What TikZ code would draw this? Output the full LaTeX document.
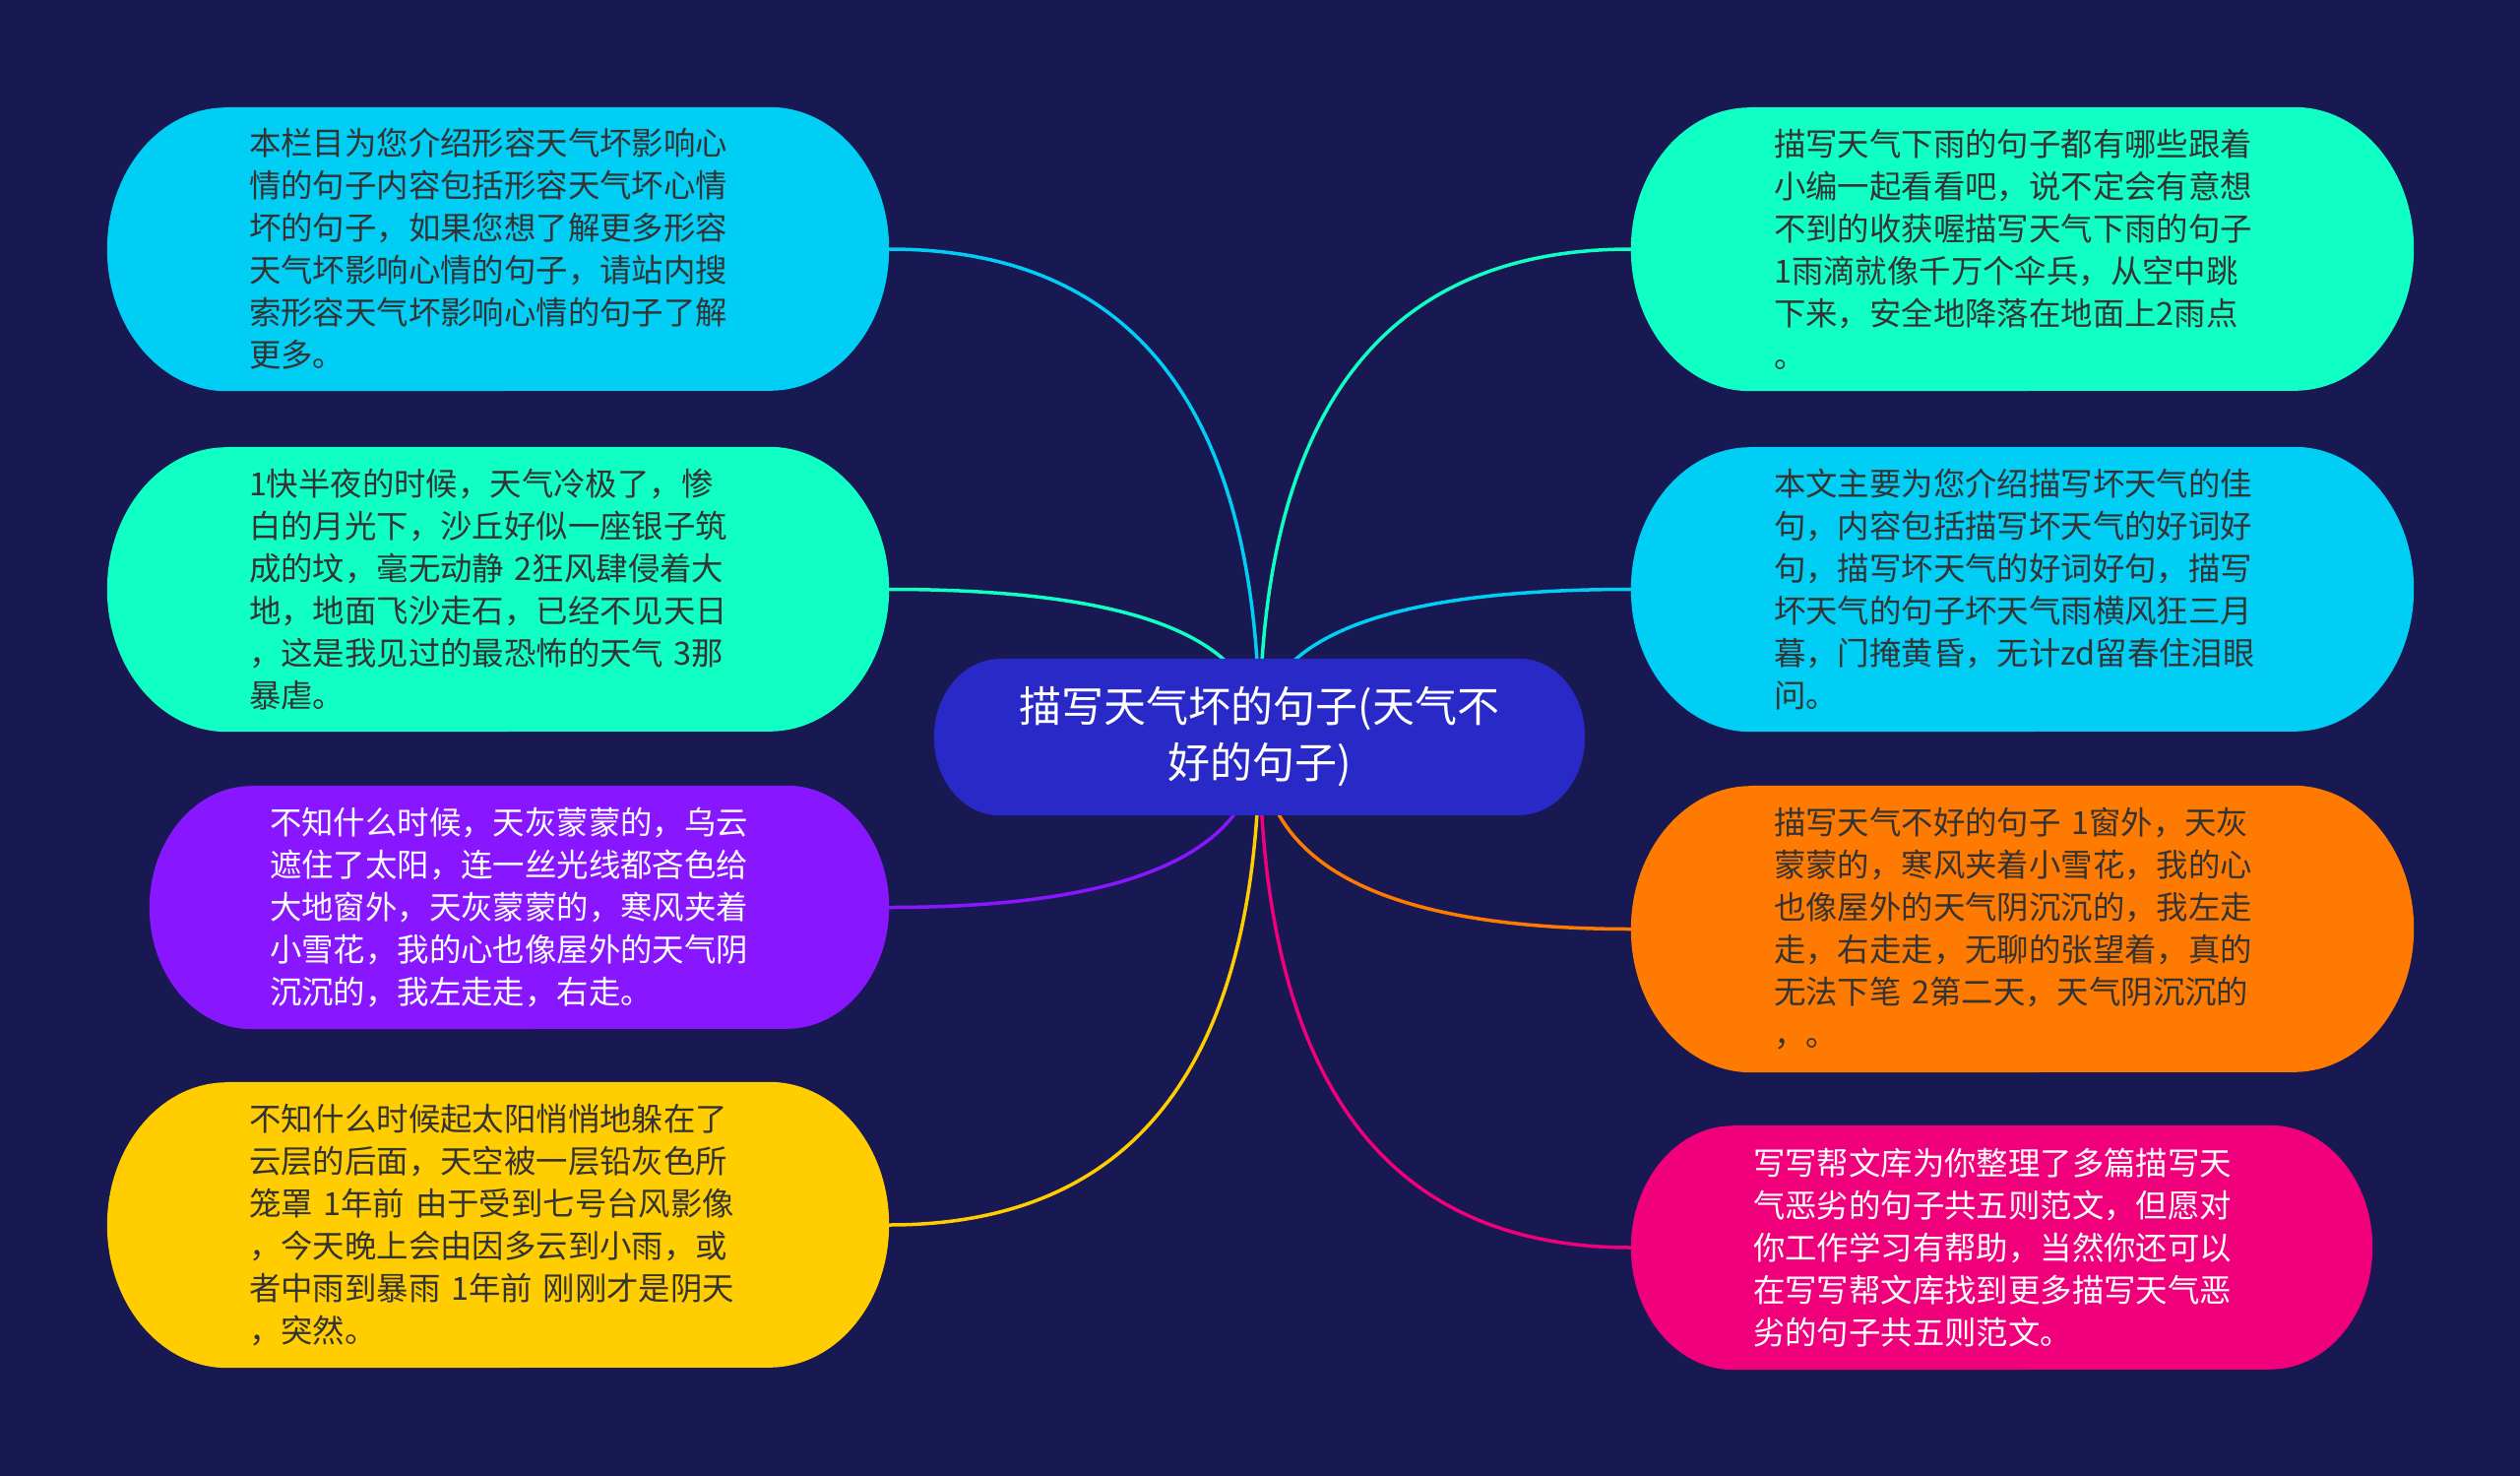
\documentclass[tikz,border=0pt]{standalone}
\usepackage{fontspec}
\setmainfont{Noto Sans CJK SC}
\usetikzlibrary{calc}
\definecolor{bgc}{RGB}{24,24,82}
\definecolor{ctrc}{RGB}{41,41,199}
\definecolor{cyanc}{RGB}{0,206,245}
\definecolor{mintc}{RGB}{15,255,196}
\definecolor{purc}{RGB}{136,22,255}
\definecolor{yelc}{RGB}{255,205,0}
\definecolor{orac}{RGB}{255,122,0}
\definecolor{pinc}{RGB}{241,0,123}
\definecolor{txtd}{RGB}{51,51,51}
\pgfdeclarelayer{bglayer}\pgfdeclarelayer{lines}\pgfdeclarelayer{boxes}
\pgfsetlayers{bglayer,lines,boxes,main}
\newcommand\pill[4]{%
 \fill[#2] ([xshift=#3pt]#1.north west) -- ([xshift=-#3pt]#1.north east)
  arc[start angle=90,end angle=-90,x radius=#3pt,y radius=#4pt]
  -- ([xshift=#3pt]#1.south west)
  arc[start angle=270,end angle=90,x radius=#3pt,y radius=#4pt] -- cycle;}
\newcommand\link[2]{%
 \coordinate (kk) at (c.center |- #2);
 \draw[conn,#1] (c.center) .. controls ($(c.center)!0.667!(kk)$) and ($(#2)!0.667!(kk)$) .. (#2);}
\tikzset{
 boxtext/.style={rectangle, inner sep=0pt, align=left, font=\fontsize{32.4}{43}\selectfont},
 conn/.style={line width=3.5pt},
}
\begin{document}
\begin{tikzpicture}[x=1pt,y=-1pt]
\begin{pgfonlayer}{bglayer}
\fill[bgc] (0,0) rectangle (2560,1499);
\end{pgfonlayer}

\node[font=\fontsize{43}{57}\selectfont, text=white, align=center, inner sep=0pt, minimum width=661pt, minimum height=159pt] (c) at (1279.5,748.5) {描写天气坏的句子(天气不\\好的句子)};

\node[boxtext, text=txtd, minimum width=794pt, minimum height=288pt, text width=506pt] (l1) at (506,253) {本栏目为您介绍形容天气坏影响心\\情的句子内容包括形容天气坏心情\\坏的句子，如果您想了解更多形容\\天气坏影响心情的句子，请站内搜\\索形容天气坏影响心情的句子了解\\更多。};

\node[boxtext, text=txtd, minimum width=794pt, minimum height=289pt, text width=506pt] (l2) at (506,598.5) {1快半夜的时候，天气冷极了，惨\\白的月光下，沙丘好似一座银子筑\\成的坟，毫无动静 2狂风肆侵着大\\地，地面飞沙走石，已经不见天日\\，这是我见过的最恐怖的天气 3那\\暴虐。};

\node[boxtext, text=white, minimum width=751pt, minimum height=247pt, text width=507pt] (l3) at (527.5,921.5) {不知什么时候，天灰蒙蒙的，乌云\\遮住了太阳，连一丝光线都吝色给\\大地窗外，天灰蒙蒙的，寒风夹着\\小雪花，我的心也像屋外的天气阴\\沉沉的，我左走走，右走。};

\node[boxtext, text=txtd, minimum width=794pt, minimum height=290pt, text width=506pt] (l4) at (506,1244) {不知什么时候起太阳悄悄地躲在了\\云层的后面，天空被一层铅灰色所\\笼罩 1年前 由于受到七号台风影像\\，今天晚上会由因多云到小雨，或\\者中雨到暴雨 1年前 刚刚才是阴天\\，突然。};

\node[boxtext, text=txtd, minimum width=795pt, minimum height=288pt, text width=505pt] (r1) at (2054.5,253) {描写天气下雨的句子都有哪些跟着\\小编一起看看吧，说不定会有意想\\不到的收获喔描写天气下雨的句子\\1雨滴就像千万个伞兵，从空中跳\\下来，安全地降落在地面上2雨点\\。};

\node[boxtext, text=txtd, minimum width=795pt, minimum height=289pt, text width=505pt] (r2) at (2054.5,598.5) {本文主要为您介绍描写坏天气的佳\\句，内容包括描写坏天气的好词好\\句，描写坏天气的好词好句，描写\\坏天气的句子坏天气雨横风狂三月\\暮，门掩黄昏，无计zd留春住泪眼\\问。};

\node[boxtext, text=txtd, minimum width=795pt, minimum height=291pt, text width=505pt] (r3) at (2054.5,943.5) {描写天气不好的句子 1窗外，天灰\\蒙蒙的，寒风夹着小雪花，我的心\\也像屋外的天气阴沉沉的，我左走\\走，右走走，无聊的张望着，真的\\无法下笔 2第二天，天气阴沉沉的\\，。};

\node[boxtext, text=white, minimum width=753pt, minimum height=248pt, text width=505pt] (r4) at (2033.5,1267) {写写帮文库为你整理了多篇描写天\\气恶劣的句子共五则范文，但愿对\\你工作学习有帮助，当然你还可以\\在写写帮文库找到更多描写天气恶\\劣的句子共五则范文。};

\begin{pgfonlayer}{boxes}
\pill{c}{ctrc}{66.8}{79.5}
\pill{l1}{cyanc}{121}{144}
\pill{l2}{mintc}{121.4}{144.5}
\pill{l3}{purc}{103.7}{123.5}
\pill{l4}{yelc}{121.8}{145}
\pill{r1}{mintc}{121}{144}
\pill{r2}{cyanc}{121.4}{144.5}
\pill{r3}{orac}{122.2}{145.5}
\pill{r4}{pinc}{104.2}{124}
\end{pgfonlayer}

\begin{pgfonlayer}{lines}
\link{cyanc}{l1.east}
\link{mintc}{l2.east}
\link{purc}{l3.east}
\link{yelc}{l4.east}
\link{mintc}{r1.west}
\link{cyanc}{r2.west}
\link{orac}{r3.west}
\link{pinc}{r4.west}
\end{pgfonlayer}
\end{tikzpicture}
\end{document}
